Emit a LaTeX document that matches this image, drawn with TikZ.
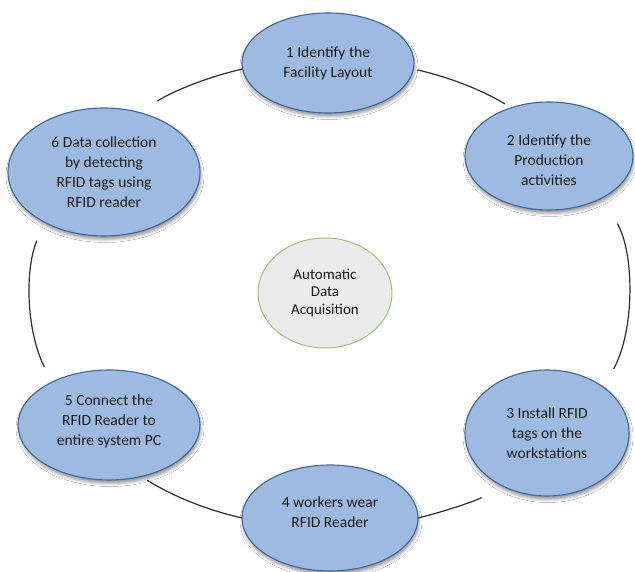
\documentclass[tikz,border=0pt]{standalone}
\usepackage{fontspec}
\setmainfont{Carlito}
\usetikzlibrary{shapes.geometric,shadows.blur}
\definecolor{stepfill}{HTML}{9DBBE1}
\definecolor{stepline}{HTML}{40659A}
\definecolor{hubfill}{HTML}{EBEBEB}
\definecolor{hubline}{HTML}{9BC27A}
\definecolor{ringline}{HTML}{2E2E2E}
\definecolor{txt}{HTML}{1A1A1A}
% invisible struts that move a node's text up (depth) or down (height)
\newcommand\padbelow[1]{\rule[-#1]{0pt}{0pt}}
\newcommand\padabove[1]{\rule{0pt}{#1}}

\begin{document}
\begin{tikzpicture}[x=1pt,y=1pt,
  stepnode/.style={ellipse, fill=stepfill, draw=stepline, line width=1.1pt,
    inner sep=0pt, outer sep=0pt, align=center, text=txt,
    font=\fontsize{15.5}{20}\selectfont,
    blur shadow={shadow xshift=1pt, shadow yshift=-3.5pt,
      shadow blur radius=3pt, shadow opacity=40}},
  hubnode/.style={ellipse, fill=hubfill, draw=hubline, line width=1pt,
    inner sep=0pt, outer sep=0pt, align=center, text=txt,
    font=\fontsize{15}{17.5}\selectfont},
  link/.style={draw=ringline, line width=1.2pt, looseness=0.87},
]
\fill[white] (0,0) rectangle (635,572);
\useasboundingbox (0,0) rectangle (635,572);

% the six steps of the cycle
\node[stepnode, minimum width=172pt, minimum height=100pt] (n1) at (328,509)
  {1 Identify the\\Facility Layout};
\node[stepnode, minimum width=168pt, minimum height=108pt] (n2) at (549,416)
  {\padabove{19pt}2 Identify the\\Production\\activities};
\node[stepnode, minimum width=164pt, minimum height=126pt] (n3) at (547,139)
  {3 Install RFID\\tags on the\\workstations};
\node[stepnode, minimum width=176pt, minimum height=106pt] (n4) at (330,54)
  {4 workers wear\\RFID Reader\padbelow{12pt}};
\node[stepnode, minimum width=182pt, minimum height=110pt] (n5) at (109,147)
  {5 Connect the\\RFID Reader to\\entire system PC\padbelow{9pt}};
\node[stepnode, minimum width=192pt, minimum height=128pt] (n6) at (104,400)
  {6 Data collection\\by detecting\\RFID tags using\\RFID reader};

% hub in the middle
\node[hubnode, minimum width=134pt, minimum height=110pt] (hub) at (325,279)
  {Automatic\\Data\\Acquisition};

% ring segments joining neighbouring steps
\draw[link, shorten >=21pt] (n1.184) to[out=193, in=33] (n6.59);
\draw[link, shorten <=4pt, shorten >=7.5pt] (n1.356) to[out=-13, in=149] (n2.128);
\draw[link, shorten <=30pt, shorten >=21pt] (n2.322) to[out=-60, in=61] (n3.39);
\draw[link, shorten <=24pt] (n3.230) to[out=209, in=14] (n4.0);
\draw[link, shorten >=7pt] (n4.180) to[out=167, in=-32] (n5.302);
\draw[link, shorten <=17pt, shorten >=20pt] (n5.143) to[out=117, in=248] (n6.220);
\end{tikzpicture}
\end{document}
